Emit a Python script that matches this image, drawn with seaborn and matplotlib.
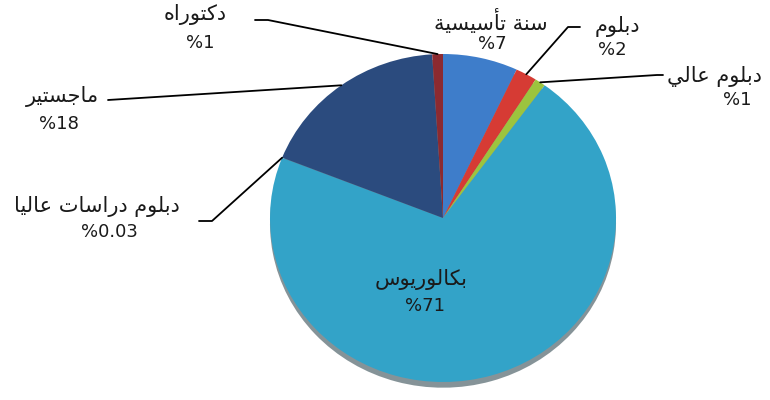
import matplotlib
matplotlib.use("Agg")
import matplotlib.pyplot as plt
import seaborn as sns
import numpy as np

# Degree shares, clockwise from the top
categories = ["سنة تأسيسية", "دبلوم", "دبلوم عالي", "بكالوريوس",
              "دبلوم دراسات عاليا", "ماجستير", "دكتوراه"]
shares = [7, 2, 1, 71, 0.03, 18, 1]
colors = ["#3e7dca", "#d63b34", "#9cc43e", "#33a3c8", "#2f8fb8", "#2b4b7e", "#8c2a30"]

# Arabic presentation forms: isolated, final, initial, medial
FORMS = {
    "ا": (0xFE8D, 0xFE8E, None, None),
    "أ": (0xFE83, 0xFE84, None, None),
    "ب": (0xFE8F, 0xFE90, 0xFE91, 0xFE92),
    "ت": (0xFE95, 0xFE96, 0xFE97, 0xFE98),
    "ة": (0xFE93, 0xFE94, None, None),
    "ج": (0xFE9D, 0xFE9E, 0xFE9F, 0xFEA0),
    "د": (0xFEA9, 0xFEAA, None, None),
    "ر": (0xFEAD, 0xFEAE, None, None),
    "س": (0xFEB1, 0xFEB2, 0xFEB3, 0xFEB4),
    "ع": (0xFEC9, 0xFECA, 0xFECB, 0xFECC),
    "ك": (0xFED9, 0xFEDA, 0xFEDB, 0xFEDC),
    "ل": (0xFEDD, 0xFEDE, 0xFEDF, 0xFEE0),
    "م": (0xFEE1, 0xFEE2, 0xFEE3, 0xFEE4),
    "ن": (0xFEE5, 0xFEE6, 0xFEE7, 0xFEE8),
    "ه": (0xFEE9, 0xFEEA, 0xFEEB, 0xFEEC),
    "و": (0xFEED, 0xFEEE, None, None),
    "ي": (0xFEF1, 0xFEF2, 0xFEF3, 0xFEF4),
}


def shape(text):
    # join letters and flip to visual order (matplotlib has no bidi)
    out = []
    for i, ch in enumerate(text):
        if ch not in FORMS:
            out.append(ch)
            continue
        prev = text[i - 1] if i > 0 else ""
        nxt = text[i + 1] if i + 1 < len(text) else ""
        iso, fin, ini, med = FORMS[ch]
        jp = prev in FORMS and FORMS[prev][2] is not None
        jn = nxt in FORMS and ini is not None
        if jp and jn:
            c = med
        elif jp:
            c = fin
        elif jn:
            c = ini
        else:
            c = iso
        out.append(chr(c))
    return "".join(out)[::-1]


sns.set_theme(style="white")
plt.rcParams["font.family"] = ["DejaVu Sans"]

fig = plt.figure(figsize=(7.7, 4), dpi=100)
ax = fig.add_axes([0, 0, 1, 1])

wedges, _ = ax.pie(shares, colors=colors, startangle=90, counterclock=False,
                   wedgeprops=dict(linewidth=0),
                   shadow=dict(ox=0.0, oy=-0.025, shade=0.75))
ax.set_aspect("auto")

# pie centre / radii in output pixels
cx, cy, rx, ry = 443, 218, 173, 164
ax.set_xlim(-cx / rx, (770 - cx) / rx)
ax.set_ylim(-(400 - cy) / ry, cy / ry)
ax.axis("off")


def px(x, y):
    return (x - cx) / rx, (cy - y) / ry


def edge(i):
    w = wedges[i]
    a = np.deg2rad((w.theta1 + w.theta2) / 2)
    return np.cos(a), np.sin(a)


# label layout: name centre, percent centre, leader path (pixels)
layout = {
    0: ((491, 21), (492, 44), None),
    1: ((617, 26), (612, 50), [(580, 27), (568, 27)]),
    2: ((714, 76), (737, 100), [(663, 75), (657, 75)]),
    3: ((421, 280), (425, 306), None),
    4: ((97, 206), (109, 232), [(199, 221), (212, 221)]),
    5: ((62, 96), (59, 124), [(108, 100)]),
    6: ((195, 14), (200, 43), [(255, 20), (268, 20)]),
}

for i, (name_pos, pct_pos, path) in layout.items():
    ax.text(*px(*name_pos), shape(categories[i]), ha="center", va="center",
            fontsize=15, color="#1a1a1a")
    ax.text(*px(*pct_pos), f"%{shares[i]:g}", ha="center", va="center",
            fontsize=13, color="#1a1a1a")
    if path:
        pts = [px(*p) for p in path] + [edge(i)]
        ax.plot([p[0] for p in pts], [p[1] for p in pts], color="black", lw=1.3)

fig.savefig("out.png", dpi=100)
